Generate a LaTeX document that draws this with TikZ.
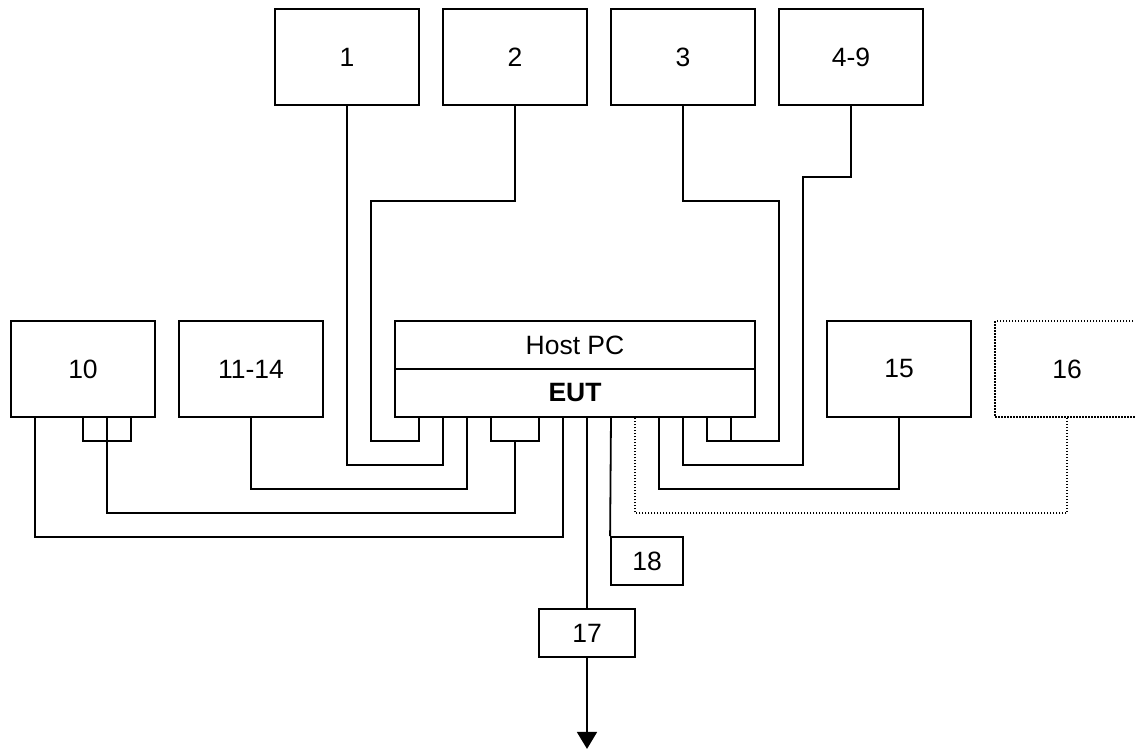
\documentclass[tikz,border=0pt]{standalone}
\usepackage{fontspec}
\setmainfont{Liberation Sans}
\usetikzlibrary{arrows.meta}
\begin{document}
\begin{tikzpicture}[x=24pt,y=-24pt,
  wire/.style={line width=1.8pt},
  dotwire/.style={line width=1.5pt,dash pattern=on 1.5pt off 1.5pt},
  box/.style={draw,line width=1.8pt,inner sep=0pt,minimum width=144pt,minimum height=96pt,font=\fontsize{26.5}{30}\selectfont},
  dotbox/.style={box,line width=1.5pt,dash pattern=on 1.5pt off 1.5pt},
  row/.style={draw,line width=1.8pt,inner sep=0pt,minimum width=360pt,minimum height=48pt,font=\fontsize{26.5}{30}\selectfont},
  small/.style={draw,line width=1.8pt,inner sep=0pt,font=\fontsize{26.5}{30}\selectfont}]
\useasboundingbox (-0.45833,-0.375) rectangle (46.8333,30.9167);
% top boxes
\node[box] (b1) at (14,2) {1};
\node[box] (b2) at (21,2) {2};
\node[box] (b3) at (28,2) {3};
\node[box] (b49) at (35,2) {4-9};
% middle row
\node[box] (b10) at (3,15) {10};
\node[box] (b1114) at (10,15) {11-14};
\node[row] (host) at (23.5,14) {Host PC};
\node[row,font=\fontsize{26.5}{30}\selectfont\bfseries] (eut) at (23.5,16) {EUT};
\node[box] (b15) at (37,15) {15};
\node[dotbox] (b16) at (44,15) {16};
% lower boxes
\node[small,minimum width=72pt,minimum height=48pt] (b18) at (26.5,23) {18};
\node[small,minimum width=96pt,minimum height=48pt] (b17) at (24,26) {17};
% ports
\foreach \i in {17,18,19,20,22,23,24,25,26,27,28,29,30} \coordinate (p\i) at (\i,17);
\foreach \i in {1,3,4,5} \coordinate (a\i) at (\i,17);
% connectors
\draw[wire] (b1.south) -- (14,19) -| (p18);
\draw[wire] (b2.south) |- (15,8) |- (17,18) -- (p17);
\draw[wire] (b3.south) |- (32,8) |- (29,18) -- (p29);
\draw[wire] (p30) -- (30,18);
\draw[wire] (b49.south) |- (33,7) |- (28,19) -- (p28);
\draw[wire] (a3) -- (3,18) -- (5,18) -- (a5);
\draw[wire] (a4) -- (4,18) |- (21,21) -- (21,18);
\draw[wire] (p20) -- (20,18) -- (22,18) -- (p22);
\draw[wire] (a1) |- (23,22) -- (p23);
\draw[wire] (b1114.south) |- (19,20) -- (p19);
\draw[wire] (b15.south) |- (27,20) -- (p27);
\draw[dotwire] (b16.south) |- (26,21) -- (p26);
\draw[wire] (p25) -- (b18.north west);
\draw[wire] (p24) -- (b17.north);
\draw[wire,-{Triangle[width=20pt,length=17pt]}] (b17.south) -- (24,30.83);
\end{tikzpicture}
\end{document}
